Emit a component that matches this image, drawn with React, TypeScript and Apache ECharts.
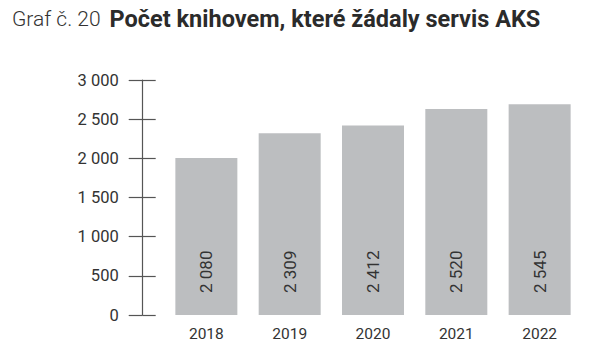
import React, { useEffect, useRef } from "react";
import * as echarts from "echarts";

const categories = ["2018", "2019", "2020", "2021", "2022"];
// bar heights as drawn in the picture
const barValues = [2005, 2320, 2420, 2630, 2690];
// value labels printed inside the bars
const valueLabels = ["2 080", "2 309", "2 412", "2 520", "2 545"];
const yTicks = [0, 500, 1000, 1500, 2000, 2500, 3000];

const fmt = (v: number) => String(v).replace(/\B(?=(\d{3})+(?!\d))/g, " ");

export default function App() {
  const ref = useRef<HTMLDivElement>(null);
  useEffect(() => {
    if (!ref.current) return;
    const chart = echarts.init(ref.current, undefined, { renderer: "svg" });
    const font = "Roboto, 'Noto Sans', sans-serif";
    const yMin = yTicks[0];
    const yMax = yTicks[yTicks.length - 1];
    const yInt = yTicks[1] - yTicks[0];
    chart.setOption({
      animation: false,
      textStyle: { fontFamily: font },
      title: {
        left: 12,
        top: 7,
        padding: 0,
        text: "{a|Graf č. 20}  {b|Počet knihovem, které žádaly servis AKS}",
        textStyle: {
          rich: {
            a: { fontSize: 21, fontWeight: 300, color: "#333", fontFamily: font },
            b: { fontSize: 23.5, fontWeight: "bold", color: "#2b2b2b", fontFamily: font },
          },
        },
      },
      grid: { left: 164.7, right: 11.7, top: 80, bottom: 41 },
      xAxis: {
        type: "category",
        data: categories,
        axisLine: { show: false },
        axisTick: { show: false },
        axisLabel: { fontSize: 15.5, color: "#333", margin: 11, fontFamily: font },
      },
      yAxis: [
        {
          type: "value",
          min: yMin,
          max: yMax,
          interval: yInt,
          offset: 22,
          axisLine: { show: true, lineStyle: { color: "#555", width: 1.2 } },
          axisTick: { show: true, length: 14, lineStyle: { color: "#555", width: 1.2 } },
          axisLabel: {
            fontSize: 16.5,
            color: "#333",
            margin: 24,
            fontFamily: font,
            formatter: (v: number) => fmt(v),
          },
          splitLine: { show: false },
        },
        {
          type: "value",
          position: "left",
          min: yMin,
          max: yMax,
          interval: yInt,
          offset: 22,
          axisLine: { show: false },
          axisTick: { show: true, inside: true, length: 13, lineStyle: { color: "#555", width: 1.2 } },
          axisLabel: { show: false },
          splitLine: { show: false },
        },
      ],
      series: [
        {
          type: "bar",
          data: barValues,
          barWidth: 62,
          itemStyle: { color: "#bcbec0" },
          label: {
            show: true,
            position: "insideBottom",
            rotate: 90,
            align: "left",
            verticalAlign: "middle",
            distance: 22,
            fontSize: 17,
            color: "#333",
            fontFamily: font,
            formatter: (p: any) => valueLabels[p.dataIndex],
          },
        },
      ],
    });
    return () => chart.dispose();
  }, []);
  return (
    <div
      ref={ref}
      style={{ position: "fixed", left: 0, top: 0, width: 593, height: 356, background: "#fff" }}
    />
  );
}
